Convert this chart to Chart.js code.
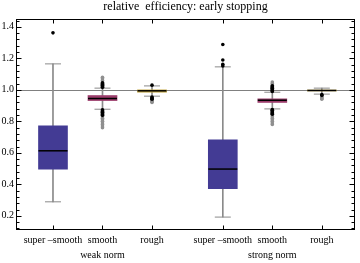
<!DOCTYPE html>
<html>
<head>
<meta charset="utf-8">
<script src="https://cdn.jsdelivr.net/npm/chart.js@4/dist/chart.umd.min.js"></script>
<style>
  html, body { margin: 0; padding: 0; background: #fff; }
  #wrap { width: 360px; height: 263px; }
</style>
</head>
<body>
<div id="wrap"><canvas id="chart"></canvas></div>
<script>
// categories and their x positions (two groups with a gap)
const categories = ['super \u2013smooth', 'smooth', 'rough', 'super \u2013smooth', 'smooth', 'rough'];
const groupLabels = ['', 'weak norm', '', '', 'strong norm', ''];
const positions = [1, 2, 3, 4.43, 5.43, 6.43];

// box-whisker statistics
const whiskerLow  = [0.289, 0.877, 0.960, 0.192, 0.879, 0.973];
const q1          = [0.497, 0.932, 0.985, 0.373, 0.920, 0.993];
const median      = [0.613, 0.945, 0.994, 0.497, 0.934, 0.996];
const q3          = [0.771, 0.964, 1.000, 0.683, 0.943, 0.999];
const whiskerHigh = [1.165, 1.011, 1.025, 1.146, 0.985, 1.011];

// outliers: near ones (black) and far ones (grey)
const nearOutliers = [
  [1.362],
  [1.016, 1.02, 1.025, 1.03, 1.035, 1.04, 1.045, 0.873, 0.868, 0.863, 0.858, 0.853, 0.848, 0.843, 0.838],
  [1.03, 0.955, 0.95, 0.945, 0.94],
  [1.152, 1.163, 1.19, 1.288],
  [0.99, 0.995, 1.0, 1.005, 1.01, 1.015, 1.02, 1.025, 0.875, 0.87, 0.865, 0.86, 0.855, 0.85, 0.845],
  [0.97, 0.965]
];
const farOutliers = [
  [],
  [1.05, 1.06, 1.07, 1.08, 0.83, 0.82, 0.81, 0.8, 0.79, 0.78, 0.77, 0.76],
  [0.935, 0.93, 0.925, 0.92],
  [],
  [1.03, 1.04, 1.05, 0.84, 0.83, 0.82, 0.81, 0.8, 0.79, 0.78],
  [0.96, 0.955, 0.95, 0.945, 0.94]
];

const yTicks = [0.2, 0.4, 0.6, 0.8, 1.0, 1.2, 1.4];
const refLine = 1.0;

const boxColors = ['#433b94', '#9c3d6c', '#c2a53f', '#433b94', '#9c3d6c', '#c2a53f'];
const FONT = 'Liberation Serif, Times New Roman, serif';

function outlierPoints(list) {
  const pts = [];
  list.forEach((vals, i) => vals.forEach(v => pts.push({ x: positions[i], y: v })));
  return pts;
}

// frame, inward ticks and the reference line at 1.0
const framePlugin = {
  id: 'frame',
  beforeDatasetsDraw(chart) {
    const { ctx, chartArea: a, scales: { y } } = chart;
    const yr = Math.round(y.getPixelForValue(refLine)) + 0.5;
    ctx.save();
    ctx.strokeStyle = '#808080';
    ctx.lineWidth = 1;
    ctx.beginPath();
    ctx.moveTo(a.left, yr);
    ctx.lineTo(a.right, yr);
    ctx.stroke();
    ctx.restore();
  },
  afterDraw(chart) {
    const { ctx, chartArea: a, scales: { x, y } } = chart;
    const L = Math.round(a.left) + 0.5, R = Math.round(a.right) - 0.5;
    const T = Math.round(a.top) + 0.5, B = Math.round(a.bottom) - 0.5;
    ctx.save();
    ctx.strokeStyle = '#000';
    ctx.lineWidth = 1;
    ctx.strokeRect(L, T, R - L, B - T);
    ctx.beginPath();
    for (let k = 3; k <= 36; k++) {
      const v = k * 0.04;
      if (v < y.min || v > y.max) continue;
      const major = k % 5 === 0;
      const len = major ? 5 : 3;
      const py = Math.round(y.getPixelForValue(v)) + 0.5;
      ctx.moveTo(L, py); ctx.lineTo(L + len, py);
      ctx.moveTo(R, py); ctx.lineTo(R - len, py);
    }
    positions.forEach(p => {
      const px = Math.round(x.getPixelForValue(p)) + 0.5;
      ctx.moveTo(px, B); ctx.lineTo(px, B - 4);
      ctx.moveTo(px, T); ctx.lineTo(px, T + 4);
    });
    ctx.stroke();
    ctx.restore();
  }
};

new Chart(document.getElementById('chart'), {
  type: 'bar',
  data: {
    datasets: [
      {
        label: 'whiskers',
        data: positions.map((p, i) => ({ x: p, y: [whiskerLow[i], whiskerHigh[i]] })),
        backgroundColor: '#8a8a8a',
        barThickness: 1,
        grouped: false,
        order: 6
      },
      {
        label: 'boxes',
        data: positions.map((p, i) => ({ x: p, y: [q1[i], q3[i]] })),
        backgroundColor: boxColors,
        barThickness: 29,
        grouped: false,
        order: 5
      },
      {
        type: 'scatter',
        label: 'caps',
        data: positions.flatMap((p, i) => [{ x: p, y: whiskerLow[i] }, { x: p, y: whiskerHigh[i] }]),
        pointStyle: 'line',
        radius: 8,
        borderColor: '#8a8a8a',
        borderWidth: 1,
        order: 4
      },
      {
        type: 'scatter',
        label: 'medians',
        data: positions.map((p, i) => ({ x: p, y: median[i] })),
        pointStyle: 'line',
        radius: 14.5,
        borderColor: '#000',
        borderWidth: 1.5,
        order: 3
      },
      {
        type: 'scatter',
        label: 'far outliers',
        data: outlierPoints(farOutliers),
        pointStyle: 'circle',
        radius: 1.8,
        backgroundColor: '#8f8f8f',
        borderWidth: 0,
        order: 2
      },
      {
        type: 'scatter',
        label: 'near outliers',
        data: outlierPoints(nearOutliers),
        pointStyle: 'circle',
        radius: 1.8,
        backgroundColor: '#000',
        borderWidth: 0,
        order: 1
      }
    ]
  },
  options: {
    responsive: true,
    maintainAspectRatio: false,
    animation: false,
    events: [],
    layout: { autoPadding: false, padding: { left: 0, right: 5, top: 0, bottom: 0 } },
    plugins: {
      legend: { display: false },
      tooltip: { enabled: false },
      title: {
        display: true,
        fullSize: false,
        text: 'relative  efficiency: early stopping',
        color: '#000',
        font: { family: FONT, size: 12, weight: 'normal', lineHeight: 1 },
        padding: { top: 1, bottom: 6 }
      }
    },
    scales: {
      x: {
        type: 'linear',
        offset: false,
        min: 0.253,
        max: 7.1,
        grid: { display: false, drawTicks: false, tickLength: 0 },
        border: { display: false },
        afterBuildTicks: s => { s.ticks = positions.map(v => ({ value: v })); },
        afterFit: s => { s.height = 33; s.paddingLeft = 0; s.paddingRight = 0; },
        ticks: {
          autoSkip: false,
          maxRotation: 0,
          padding: 2.5,
          color: '#000',
          font: { family: FONT, size: 10, lineHeight: 1.5 },
          callback: (v, i) => groupLabels[i] ? [categories[i], groupLabels[i]] : categories[i]
        }
      },
      y: {
        min: 0.11,
        max: 1.45,
        grid: { display: false, drawTicks: false, tickLength: 0 },
        border: { display: false },
        afterBuildTicks: s => { s.ticks = yTicks.map(v => ({ value: v })); },
        afterFit: s => { s.width = 16; s.paddingTop = 0; s.paddingBottom = 0; },
        ticks: {
          padding: 2,
          color: '#000',
          font: { family: FONT, size: 10 },
          callback: v => v.toFixed(1)
        }
      }
    }
  },
  plugins: [framePlugin]
});
</script>
</body>
</html>
